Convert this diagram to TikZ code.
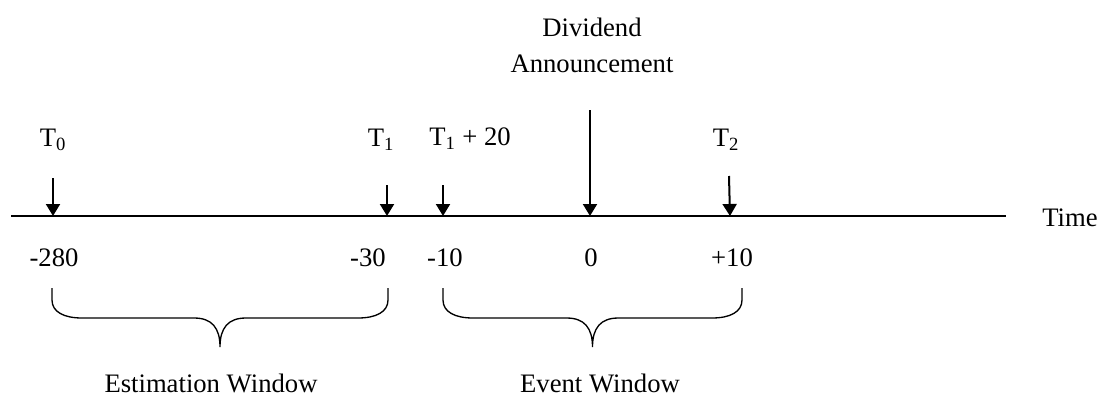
\documentclass[tikz,border=0pt]{standalone}
\usepackage{fontspec}
\setmainfont{Liberation Serif}
\usepackage{tikz}
\usetikzlibrary{arrows.meta}

\tikzset{
  axisline/.style={line width=1.5pt},
  eventarrow/.style={line width=1.5pt, -{Triangle[length=9pt,width=10.5pt]}},
  bracepen/.style={line width=1pt},
  lbl/.style={inner sep=0pt}
}

% window brace between two x positions (pixel units)
\newcommand{\timebrace}[2]{%
  \pgfmathsetmacro{\bmid}{(#1+#2)/2}
  \draw[bracepen] (#1,288) -- (#1,300) .. controls (#1,312) and (#1+12,318) .. (#1+30,318)
    -- (\bmid-26,318) .. controls (\bmid-8,318) and (\bmid,328) .. (\bmid,347)
    .. controls (\bmid,328) and (\bmid+8,318) .. (\bmid+26,318)
    -- (#2-30,318) .. controls (#2-12,318) and (#2,312) .. (#2,300) -- (#2,288);}

\begin{document}
\begin{tikzpicture}[x=0.75pt, y=-0.75pt, font=\fontsize{20}{27}\selectfont]
    \useasboundingbox (0,0) rectangle (1097,396);
    % time axis
    \coordinate (axisL) at (11,216);
    \coordinate (axisR) at (1006,216);
    \draw[axisline] (axisL) -- (axisR);
    \node[lbl] (time) at (1070,218) {Time};
    % event points
    \coordinate (t0) at (53,216);   \coordinate (t0s) at (53,178);
    \coordinate (t1) at (387,216);  \coordinate (t1s) at (387,185);
    \coordinate (t20) at (443,216); \coordinate (t20s) at (443,185);
    \coordinate (ann) at (590,216); \coordinate (anns) at (590,110);
    \coordinate (t2) at (730,216);  \coordinate (t2s) at (729,176);
    \draw[eventarrow] (t0s) -- (t0);
    \draw[eventarrow] (t1s) -- (t1);
    \draw[eventarrow] (t20s) -- (t20);
    \draw[eventarrow] (anns) -- (ann);
    \draw[eventarrow] (t2s) -- (t2);
    % labels above
    \node[lbl] (lt0) at (53,140) {T\textsubscript{0}};
    \node[lbl] (lt1) at (381,140) {T\textsubscript{1}};
    \node[lbl] (lt20) at (470,139) {T\textsubscript{1} + 20};
    \node[lbl] (lt2) at (726,140) {T\textsubscript{2}};
    \node[lbl, align=center] (lann) at (592,45) {Dividend\\Announcement};
    % days below
    \node[lbl] (d280) at (54,258) {-280};
    \node[lbl] (d30) at (368,258) {-30};
    \node[lbl] (d10) at (445,258) {-10};
    \node[lbl] (d0) at (591,258) {0};
    \node[lbl] (dp10) at (732,258) {+10};
    % windows
    \timebrace{52}{388}
    \timebrace{443}{742}
    \node[lbl] (estwin) at (211,383) {Estimation Window};
    \node[lbl] (evwin) at (600,383) {Event Window};
\end{tikzpicture}
\end{document}
